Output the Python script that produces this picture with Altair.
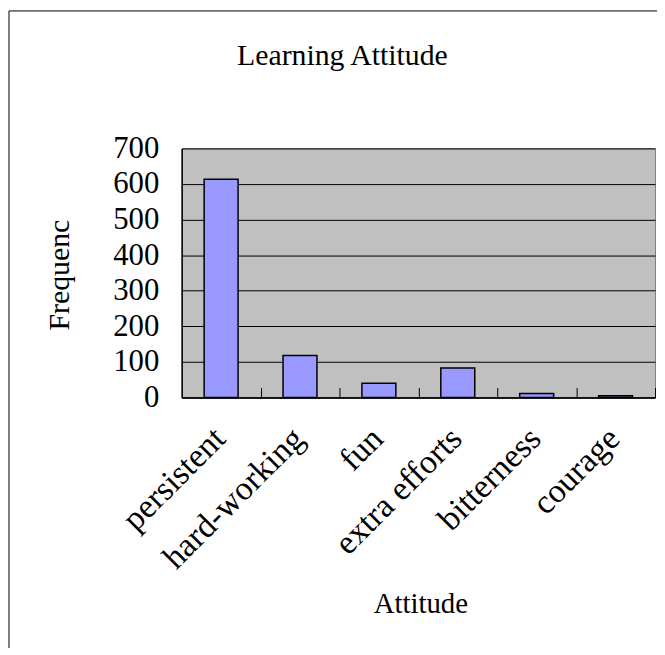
import altair as alt
import pandas as pd

categories = ["persistent", "hard-working", "fun", "extra efforts", "bitterness", "courage"]
frequency = [613, 118, 40, 83, 11, 5]
y_ticks = [0, 100, 200, 300, 400, 500, 600, 700]
chart_title = ["Learning Attitude"]

df = pd.DataFrame({"Attitude": categories, "Frequency": frequency})

FONT = "Liberation Serif"
W, H = 477, 251
STEP = W / len(categories)

xscale = alt.Scale(domain=categories, paddingInner=0.57, paddingOuter=0.285)
yscale = alt.Scale(domain=[0, 700], nice=False)

frame = alt.Chart(pd.DataFrame({"f": [0]})).mark_rect(
    fillOpacity=0, stroke="black", strokeWidth=1
).encode(
    x=alt.value(-174), x2=alt.value(700), y=alt.value(-138.5), y2=alt.value(700)
)

title_mark = alt.Chart(pd.DataFrame({"t": chart_title})).mark_text(
    font=FONT, fontSize=30, color="black", align="center", baseline="alphabetic"
).encode(text="t:N", x=alt.value(162), y=alt.value(-84))

bars = alt.Chart(df).mark_bar(color="#9999FF", stroke="black", strokeWidth=1.5).encode(
    x=alt.X("Attitude:N", sort=categories, scale=xscale,
            axis=alt.Axis(orient="bottom", title="Attitude", labelAngle=-45,
                          labelAlign="right", labelBaseline="middle", labelPadding=36,
                          labelOffset=-1, labelLimit=400,
                          labelFont=FONT, labelFontSize=34, labelColor="black",
                          tickSize=0, domainColor="black", domainWidth=1.5,
                          titleFont=FONT, titleFontSize=29, titleFontWeight="normal",
                          titleColor="black", titleX=W / 2 + 2, titleY=217,
                          titleBaseline="alphabetic", titleAlign="center")),
    y=alt.Y("Frequency:Q", scale=yscale,
            axis=alt.Axis(values=y_ticks, title="Frequenc", grid=True, gridColor="black",
                          gridWidth=1, gridOpacity=1, tickSize=0, labelPadding=23,
                          labelFont=FONT, labelFontSize=31, labelColor="black",
                          domainColor="black", domainWidth=1.5,
                          titleFont=FONT, titleFontSize=30, titleFontWeight="normal",
                          titleColor="black", titleAngle=270, titleX=-114, titleY=183,
                          titleAlign="left", titleBaseline="alphabetic", zindex=0)),
)

tick_layer = alt.Chart(df).mark_bar(opacity=0).encode(
    x=alt.X("Attitude:N", sort=categories, scale=xscale,
            axis=alt.Axis(orient="top", offset=-H, labels=False, domain=False,
                          tickOffset=STEP / 2, tickSize=10, tickColor="black",
                          tickWidth=1, title="", grid=False, zindex=1)),
)

chart = alt.layer(frame, bars, tick_layer, title_mark).resolve_axis(x="independent").properties(
    width=W,
    height=H,
    autosize=alt.AutoSizeParams(type="none"),
    padding={"left": 175, "top": 139, "right": 2, "bottom": 250},
    background="white",
).configure_view(fill="#C0C0C0", stroke="#808080", strokeWidth=1)

chart.save("out.html", embed_options={"renderer": "svg", "actions": False})
